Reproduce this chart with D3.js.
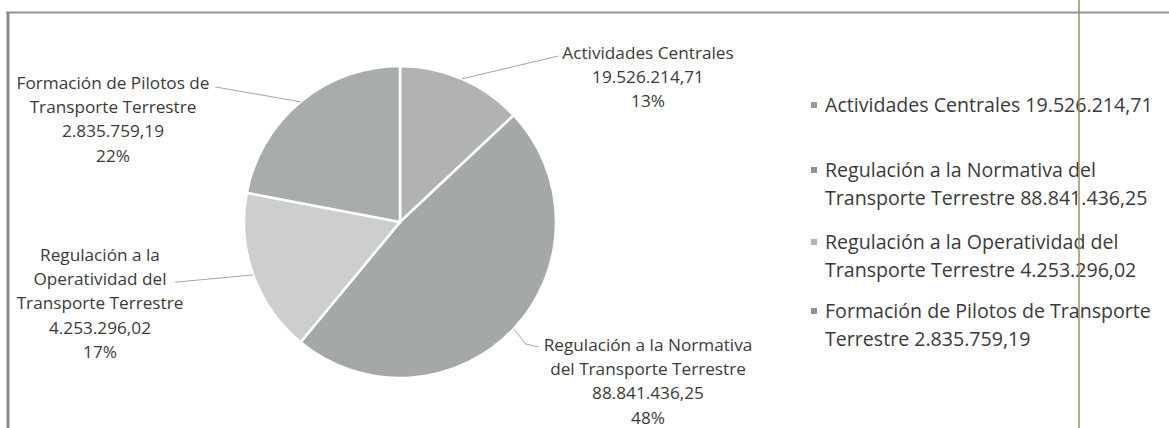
<!DOCTYPE html>
<meta charset="utf-8">
<style>
    body { margin: 0; background: #fff; }
    svg text { font-family: "Open Sans", "Noto Sans", sans-serif; fill: #3b3b3b; }
    .leader { fill: none; stroke: #a6a6a6; stroke-width: 1; }
</style>
<svg width="1169" height="428"></svg>
<script src="https://cdn.jsdelivr.net/npm/d3@7"></script>
<script>

    var categories = ["Actividades Centrales", "Regulación a la Normativa del Transporte Terrestre",
        "Regulación a la Operatividad del Transporte Terrestre", "Formación de Pilotos de Transporte Terrestre"];
    var amounts = ["19.526.214,71", "88.841.436,25", "4.253.296,02", "2.835.759,19"];
    var percents = [13, 48, 17, 22];

    // how the labels wrap in the picture
    var labelLines = [
        ["Actividades Centrales"],
        ["Regulación a la Normativa", "del Transporte Terrestre"],
        ["Regulación a la", "Operatividad del", "Transporte Terrestre"],
        ["Formación de Pilotos de", "Transporte Terrestre"]
    ];
    var legendLines = [
        ["Actividades Centrales 19.526.214,71"],
        ["Regulación a la Normativa del", "Transporte Terrestre 88.841.436,25"],
        ["Regulación a la Operatividad del", "Transporte Terrestre 4.253.296,02"],
        ["Formación de Pilotos de Transporte", "Terrestre 2.835.759,19"]
    ];

    var svg = d3.select("svg"),
        width = +svg.attr("width"),
        height = +svg.attr("height");

    var color = d3.scaleOrdinal()
        .domain(categories)
        .range(["#b1b3b3", "#a5a8a8", "#cdcfcf", "#a9acac"]);

    // frame
    svg.append("line").attr("x1", 6).attr("x2", width).attr("y1", 12.5).attr("y2", 12.5)
        .attr("stroke", "#969696").attr("stroke-width", 2);
    svg.append("line").attr("x1", 8).attr("x2", 8).attr("y1", 12).attr("y2", height)
        .attr("stroke", "#8a8a8a").attr("stroke-width", 3);

    var cx = 400, cy = 222, r = 156;

    var pie = d3.pie().sort(null).value(function (d) { return d; });
    var arcs = pie(percents);
    var arc = d3.arc().innerRadius(0).outerRadius(r);

    var g = svg.append("g").attr("transform", "translate(" + cx + "," + cy + ")");

    g.selectAll("path.slice")
        .data(arcs)
        .enter().append("path")
        .attr("class", "slice")
        .attr("d", arc)
        .attr("fill", function (d, i) { return color(categories[i]); })
        .attr("stroke", "#fff")
        .attr("stroke-width", 2.5);

    // label blocks: centre x and first line y, relative to pie centre
    var labelPos = [[248, -169], [248, 123], [-300, 33], [-287, -139]];
    var lineH = 24.2;

    arcs.forEach(function (a, i) {
        var mid = (a.startAngle + a.endAngle) / 2;
        var sx = Math.sin(mid) * r, sy = -Math.cos(mid) * r;
        var lines = labelLines[i].concat([amounts[i], percents[i] + "%"]);
        var t = g.append("text")
            .attr("text-anchor", "middle")
            .style("font-size", "17.2px");
        lines.forEach(function (l, k) {
            t.append("tspan")
                .attr("x", labelPos[i][0])
                .attr("y", labelPos[i][1] + k * lineH)
                .attr("dy", "0.35em")
                .text(l);
        });
        var bb = t.node().getBBox();
        var ex, ey, pts;
        if (i === 0) {
            ex = bb.x - 4; ey = labelPos[i][1] + 3;
            pts = [[sx, sy], [ex, ey]];
        } else if (i === 1) {
            ex = bb.x - 5; ey = labelPos[i][1] + 2;
            pts = [[sx, sy], [sx + 12, ey - 3], [ex, ey]];
        } else if (i === 2) {
            // leader meets the end of the second line
            ex = labelPos[i][0] + 75; ey = labelPos[i][1] + lineH + 3;
            pts = [[sx, sy], [ex, ey]];
        } else {
            ex = bb.x + bb.width + 6; ey = labelPos[i][1] + 4;
            pts = [[sx, sy], [ex, ey]];
        }
        g.append("path").attr("class", "leader").attr("d", d3.line()(pts));
    });

    // legend
    var legendY = [105, 170, 242, 311];
    var legend = svg.append("g").attr("transform", "translate(825,0)");
    legendLines.forEach(function (lines, i) {
        legend.append("rect")
            .attr("x", -14).attr("y", legendY[i] - 3)
            .attr("width", 6).attr("height", 6)
            .attr("fill", d3.color(color(categories[i])).darker(0.4));
        var t = legend.append("text").style("font-size", "19.6px");
        lines.forEach(function (l, k) {
            t.append("tspan").attr("x", 0).attr("y", legendY[i] + k * 28.5)
                .attr("dy", "0.35em").text(l);
        });
    });

    // vertical rule across the page
    svg.append("line").attr("x1", 1079).attr("x2", 1079).attr("y1", 0).attr("y2", height)
        .attr("stroke", "#9c8f5c").attr("stroke-width", 1.5);

</script>
